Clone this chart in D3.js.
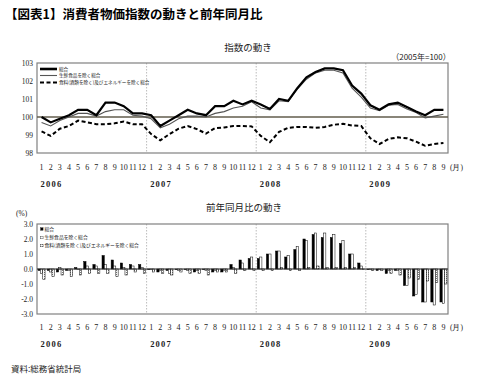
<!DOCTYPE html>
<html><head><meta charset="utf-8">
<script src="https://cdn.jsdelivr.net/npm/d3@7"></script>
<style>body{margin:0;background:#fff}svg{display:block}</style>
</head><body><svg id="c" width="480" height="380"></svg>
<script>
// ---------------- data ----------------
const monthLabels = ["1","2","3","4","5","6","7","8","9","10","11","12",
                     "1","2","3","4","5","6","7","8","9","10","11","12",
                     "1","2","3","4","5","6","7","8","9","10","11","12",
                     "1","2","3","4","5","6","7","8","9"];
const yearLabels = ["2006","2007","2008","2009"];
const yearStartIndex = [0,12,24,36];
const indexTicks = [98,99,100,101,102,103];
const pctTicks = [-3,-2,-1,0,1,2,3];
const seriesNames = ["総合","生鮮食品を除く総合","食料(酒類を除く)及びエネルギーを除く総合"];

// 2005年=100
const idxAll = [100.0,99.7,99.9,100.1,100.4,100.4,100.1,100.8,100.8,100.6,100.2,100.2,
                100.1,99.5,99.8,100.1,100.4,100.2,100.1,100.6,100.6,100.9,100.7,100.9,
                100.7,100.45,101.0,100.9,101.6,102.2,102.5,102.7,102.7,102.6,101.75,101.3,
                100.65,100.4,100.7,100.8,100.55,100.3,100.1,100.4,100.4];
const idxCore = [99.7,99.5,99.8,100.0,100.2,100.2,100.05,100.3,100.4,100.4,100.1,100.05,
                 99.9,99.4,99.6,99.9,100.05,100.05,100.0,100.2,100.3,100.5,100.6,100.85,
                 100.5,100.4,100.9,100.85,101.55,102.1,102.45,102.6,102.6,102.45,101.6,101.1,
                 100.5,100.35,100.65,100.7,100.45,100.25,99.95,100.05,100.15];
const idxCoreCore = [99.2,98.95,99.35,99.5,99.8,99.7,99.6,99.6,99.65,99.75,99.6,99.6,
                     99.05,98.7,99.05,99.35,99.5,99.33,99.08,99.38,99.42,99.5,99.5,99.48,
                     98.95,98.6,99.17,99.4,99.45,99.45,99.4,99.45,99.57,99.62,99.53,99.5,
                     98.82,98.5,98.78,98.87,98.82,98.63,98.4,98.5,98.55];

// 前年同月比 (%)
const yoyAll = [-0.1,-0.1,-0.2,-0.1,0.1,0.5,0.3,0.9,0.6,0.4,0.3,0.3,
                0.0,-0.2,-0.1,0.0,0.0,-0.2,0.0,-0.2,-0.2,0.3,0.6,0.7,
                0.7,1.0,1.2,0.8,1.3,2.0,2.3,2.1,2.1,1.7,1.0,0.4,
                0.0,-0.1,-0.3,-0.1,-1.1,-1.8,-2.2,-2.2,-2.2];
const yoyCore = [-0.3,-0.2,0.1,-0.1,0.0,0.2,0.2,0.3,0.2,0.1,0.2,0.1,
                 0.0,-0.1,-0.3,-0.1,-0.1,-0.1,-0.1,-0.1,-0.1,0.1,0.4,0.8,
                 0.8,1.0,1.2,0.9,1.5,1.9,2.4,2.4,2.3,1.9,1.0,0.2,
                 0.0,0.0,-0.1,-0.1,-1.1,-1.7,-2.2,-2.4,-2.3];
const yoyCoreCore = [-0.7,-0.5,-0.4,-0.5,-0.4,-0.3,-0.3,-0.3,-0.5,-0.4,-0.2,-0.3,
                     -0.2,-0.3,-0.4,-0.2,-0.3,-0.3,-0.4,-0.2,-0.2,-0.3,-0.1,-0.1,
                     -0.1,-0.1,0.1,-0.1,-0.1,0.1,0.2,0.1,0.1,0.1,0.1,0.0,
                     -0.1,-0.1,-0.3,-0.4,-0.6,-0.7,-0.8,-0.9,-1.0];

// ---------------- drawing ----------------
const svg = d3.select("#c");
const JP = "'Noto Sans CJK JP','Noto Sans',sans-serif";
const NUM = "'Liberation Serif','DejaVu Serif',serif";
const L = 37, R = 448;
const n = monthLabels.length;
const x = d3.scaleBand().domain(d3.range(n)).range([L, R]);
const bw = x.bandwidth();
const cx = i => x(i) + bw / 2;

svg.append("rect").attr("width",480).attr("height",380).attr("fill","#fff");

const defs = svg.append("defs");
const pat = defs.append("pattern").attr("id","dots").attr("patternUnits","userSpaceOnUse")
  .attr("width",2).attr("height",2);
pat.append("rect").attr("width",2).attr("height",2).attr("fill","#fff");
pat.append("rect").attr("width",1).attr("height",1).attr("fill","#777");

// main title
svg.append("text").attr("x",5).attr("y",19).attr("font-family",JP).attr("font-weight","bold")
  .attr("font-size",12.5).attr("fill","#000").text("【図表1】消費者物価指数の動きと前年同月比");

function frame(top, bottom) {
  const g = svg.append("g");
  yearStartIndex.slice(1).forEach(i => {
    g.append("line").attr("x1",x(i)).attr("x2",x(i)).attr("y1",top).attr("y2",bottom)
      .attr("stroke","#aaa").attr("stroke-width",0.8).attr("stroke-dasharray","1.5,1.5");
  });
  g.append("rect").attr("x",L).attr("y",top).attr("width",R-L).attr("height",bottom-top)
    .attr("fill","none").attr("stroke","#808080").attr("stroke-width",1.2);
}
function xLabels(yMonth, yYear) {
  svg.append("g").selectAll("text").data(monthLabels).join("text")
    .attr("x",(d,i)=>cx(i)).attr("y",yMonth).attr("text-anchor","middle")
    .attr("font-family",NUM).attr("font-size",8).attr("fill","#222").text(d=>d);
  svg.append("text").attr("x",450).attr("y",yMonth).attr("font-family",NUM)
    .attr("font-size",7.5).attr("fill","#222").text("(月)");
  svg.append("g").selectAll("text").data(yearLabels).join("text")
    .attr("x",(d,k)=>cx(yearStartIndex[k]) - 1).attr("y",yYear)
    .attr("font-family",NUM).attr("font-weight","bold").attr("font-size",8.5)
    .attr("letter-spacing",1.2).attr("fill","#222").text(d=>d);
}

// ---------- top chart ----------
const T1 = 63, B1 = 153;
const y1 = d3.scaleLinear().domain([98,103]).range([B1,T1]);
svg.append("text").attr("x",248).attr("y",51).attr("text-anchor","middle")
  .attr("font-family",JP).attr("font-size",9.5).attr("fill","#222").text("指数の動き");
svg.append("text").attr("x",421).attr("y",60).attr("text-anchor","middle")
  .attr("font-family",JP).attr("font-size",8).attr("fill","#222").text("（2005年=100）");
frame(T1, B1);
svg.append("g").selectAll("text").data(indexTicks).join("text")
  .attr("x",33).attr("y",d=>y1(d)+3).attr("text-anchor","end")
  .attr("font-family",NUM).attr("font-size",7.5).attr("fill","#222").text(d=>d);
svg.append("line").attr("x1",L).attr("x2",R).attr("y1",y1(100)).attr("y2",y1(100))
  .attr("stroke","#625c4c").attr("stroke-width",1.5);

const line1 = d3.line().x((d,i)=>cx(i)).y(d=>y1(d));
svg.append("path").datum(idxCoreCore).attr("d",line1).attr("fill","none")
  .attr("stroke","#000").attr("stroke-width",2).attr("stroke-dasharray","4,2.5");
svg.append("path").datum(idxCore).attr("d",line1).attr("fill","none")
  .attr("stroke","#555").attr("stroke-width",1.1);
svg.append("path").datum(idxAll).attr("d",line1).attr("fill","none")
  .attr("stroke","#000").attr("stroke-width",2.2);

// legend top
const lg1 = [{y:69, w:2.6, dash:null},{y:75.5, w:1.1, dash:null},{y:82.5, w:2, dash:"4,2.5"}];
lg1.forEach((s,k)=>{
  svg.append("line").attr("x1",40).attr("x2",57).attr("y1",s.y).attr("y2",s.y)
    .attr("stroke",k===1?"#555":"#000").attr("stroke-width",s.w)
    .attr("stroke-dasharray",s.dash);
  svg.append("text").attr("x",59).attr("y",s.y+1.8).attr("font-family",JP)
    .attr("font-size",4.6).attr("fill","#222").text(seriesNames[k]);
});
xLabels(170, 187);

// ---------- bottom chart ----------
const T2 = 224, B2 = 314;
const y2 = d3.scaleLinear().domain([-3,3]).range([B2,T2]);
svg.append("text").attr("x",244).attr("y",211).attr("text-anchor","middle")
  .attr("font-family",JP).attr("font-size",9.5).attr("fill","#222").text("前年同月比の動き");
svg.append("text").attr("x",16).attr("y",216).attr("font-family",NUM)
  .attr("font-size",7.5).attr("fill","#222").text("(%)");
frame(T2, B2);
svg.append("g").selectAll("text").data(pctTicks).join("text")
  .attr("x",33).attr("y",d=>y2(d)+3).attr("text-anchor","end")
  .attr("font-family",NUM).attr("font-size",7.5).attr("fill","#222").text(d=>d.toFixed(1));

const barW = 2.3;
const barSeries = [
  {data: yoyAll, off: -3.5, fill: "#000"},
  {data: yoyCore, off: -1.15, fill: "#fff"},
  {data: yoyCoreCore, off: 1.2, fill: "url(#dots)"}
];
barSeries.forEach(s=>{
  svg.append("g").selectAll("rect").data(s.data).join("rect")
    .attr("x",(d,i)=>cx(i)+s.off).attr("width",barW)
    .attr("y",d=>y2(Math.max(0,d))).attr("height",d=>Math.max(0.6,Math.abs(y2(d)-y2(0))))
    .attr("fill",s.fill).attr("stroke","#000").attr("stroke-width",0.5);
});
svg.append("line").attr("x1",L).attr("x2",R).attr("y1",y2(0)).attr("y2",y2(0))
  .attr("stroke","#222").attr("stroke-width",1);

// legend bottom
const lg2 = [230, 238.5, 246.5];
lg2.forEach((yy,k)=>{
  svg.append("rect").attr("x",40.5).attr("y",yy-2.3).attr("width",2.6).attr("height",2.6)
    .attr("fill",k===0?"#000":(k===1?"#fff":"url(#dots)")).attr("stroke","#333").attr("stroke-width",0.4);
  svg.append("text").attr("x",44.5).attr("y",yy+0.5).attr("font-family",JP)
    .attr("font-size",4.8).attr("fill","#222").text(seriesNames[k]);
});
xLabels(330, 347);

// source
svg.append("text").attr("x",11).attr("y",372).attr("font-family",JP)
  .attr("font-size",8.5).attr("fill","#222").text("資料:総務省統計局");
</script></body></html>
